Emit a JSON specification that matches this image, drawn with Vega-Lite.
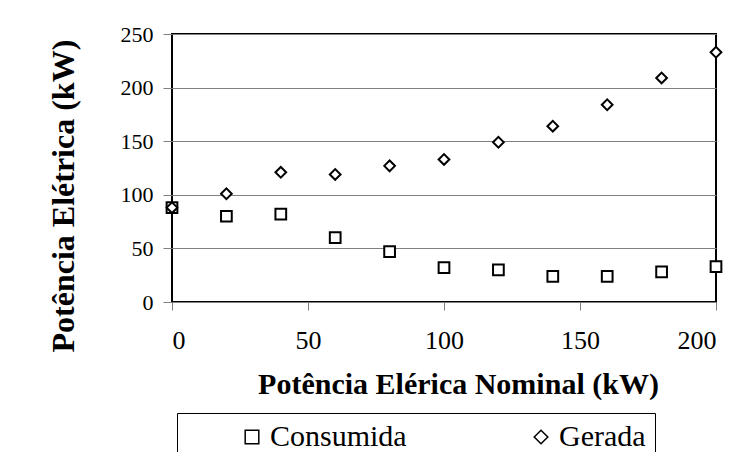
{
  "$schema": "https://vega.github.io/schema/vega-lite/v6.json",
  "autosize": "none",
  "padding": {"left": 172, "top": 34, "right": 20, "bottom": 150},
  "width": 544,
  "height": 268,
  "background": "white",
  "config": {
    "font": "Liberation Serif, DejaVu Serif, serif",
    "view": {"stroke": "black", "strokeWidth": 2},
    "axis": {"labelColor": "black", "titleColor": "black", "labelFont": "Liberation Serif, DejaVu Serif, serif", "titleFont": "Liberation Serif, DejaVu Serif, serif"},
    "legend": {"labelFont": "Liberation Serif, DejaVu Serif, serif", "titleFont": "Liberation Serif, DejaVu Serif, serif"}
  },
  "data": {
    "values": [
      {"nominal": 0, "potencia": 88, "serie": "Consumida"},
      {"nominal": 20, "potencia": 80, "serie": "Consumida"},
      {"nominal": 40, "potencia": 82, "serie": "Consumida"},
      {"nominal": 60, "potencia": 60, "serie": "Consumida"},
      {"nominal": 80, "potencia": 47, "serie": "Consumida"},
      {"nominal": 100, "potencia": 32, "serie": "Consumida"},
      {"nominal": 120, "potencia": 30, "serie": "Consumida"},
      {"nominal": 140, "potencia": 24, "serie": "Consumida"},
      {"nominal": 160, "potencia": 24, "serie": "Consumida"},
      {"nominal": 180, "potencia": 28, "serie": "Consumida"},
      {"nominal": 200, "potencia": 33, "serie": "Consumida"},
      {"nominal": 0, "potencia": 88, "serie": "Gerada"},
      {"nominal": 20, "potencia": 101, "serie": "Gerada"},
      {"nominal": 40, "potencia": 121, "serie": "Gerada"},
      {"nominal": 60, "potencia": 119, "serie": "Gerada"},
      {"nominal": 80, "potencia": 127, "serie": "Gerada"},
      {"nominal": 100, "potencia": 133, "serie": "Gerada"},
      {"nominal": 120, "potencia": 149, "serie": "Gerada"},
      {"nominal": 140, "potencia": 164, "serie": "Gerada"},
      {"nominal": 160, "potencia": 184, "serie": "Gerada"},
      {"nominal": 180, "potencia": 209, "serie": "Gerada"},
      {"nominal": 200, "potencia": 233, "serie": "Gerada"}
    ]
  },
  "mark": {"type": "point", "filled": true, "fill": "white", "stroke": "black", "strokeWidth": 2, "opacity": 1, "size": 115},
  "encoding": {
    "x": {
      "field": "nominal", "type": "quantitative",
      "scale": {"domain": [0, 200], "nice": false, "zero": true},
      "axis": {
        "values": [0, 50, 100, 150, 200], "grid": false, "domain": false,
        "tickColor": "#808080", "tickSize": 8, "tickWidth": 1,
        "labelFontSize": 26, "labelPadding": 17,
        "title": "Potência Elérica Nominal (kW)", "titleFontSize": 30, "titleFontWeight": "bold",
        "titleX": 286, "titleY": 91, "titleBaseline": "alphabetic", "titleAlign": "center"
      }
    },
    "y": {
      "field": "potencia", "type": "quantitative",
      "scale": {"domain": [0, 250], "nice": false},
      "axis": {
        "values": [0, 50, 100, 150, 200, 250], "grid": true, "gridColor": "#808080", "gridWidth": 1,
        "domain": false, "tickColor": "#808080", "tickSize": 9, "tickWidth": 1,
        "labelFontSize": 22, "labelPadding": 10,
        "title": "Potência Elétrica (kW)", "titleFontSize": 32, "titleFontWeight": "bold",
        "titleAngle": 270, "titleAlign": "left", "titleBaseline": "alphabetic",
        "titleX": -99, "titleY": 318
      }
    },
    "shape": {
      "field": "serie", "type": "nominal",
      "scale": {"domain": ["Consumida", "Gerada"], "range": ["square", "diamond"]},
      "legend": {
        "orient": "none", "legendX": 5, "legendY": 379, "direction": "horizontal",
        "columns": 2, "gridAlign": "all",
        "title": "\u00a0", "titleOrient": "left", "titleFontSize": 1, "titlePadding": 51,
        "padding": 9, "strokeColor": "black", "fillColor": "white",
        "columnPadding": 119, "labelOffset": 3, "labelFontSize": 30,
        "labelColor": "black", "labelLimit": 300,
        "symbolSize": 185,
        "encode": {
          "symbols": {
            "update": {
              "stroke": {"value": "black"},
              "strokeWidth": {"value": 1.5},
              "fill": {"value": "white"},
              "opacity": {"value": 1}
            }
          }
        }
      }
    }
  }
}
